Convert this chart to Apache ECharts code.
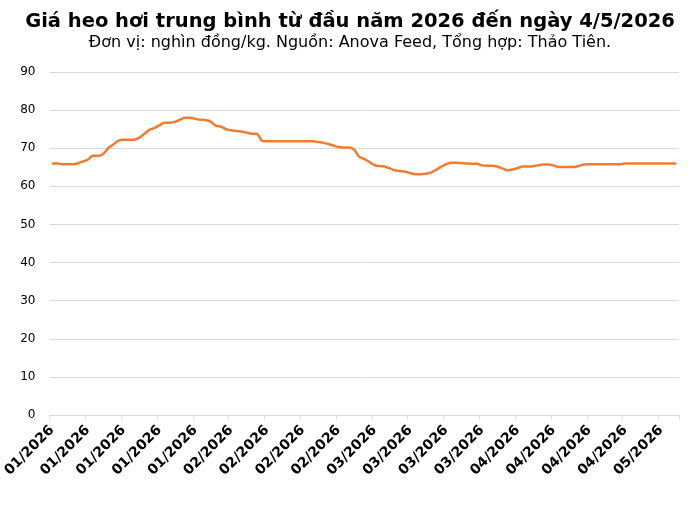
<!DOCTYPE html>
<html>
<head>
<meta charset="utf-8">
<script src="https://cdn.jsdelivr.net/npm/echarts@6/dist/echarts.min.js"></script>
<style>
  html, body { margin: 0; padding: 0; background: #fff; }
  #chart { width: 700px; height: 505px; }
</style>
</head>
<body>
<div id="chart"></div>
<script>
// Daily live-hog price, 02/01/2026 .. 04/05/2026 (thousand VND/kg)
var startDate = [2026, 0, 2];
var dayCount = 123;

var prices = [
  66.0, 66.0, 65.8, 65.8, 65.8, 66.0, 66.5, 67.0, 68.0, 68.0,
  68.5, 70.0, 71.0, 72.0, 72.2, 72.2, 72.2, 72.7, 73.7, 74.8,
  75.3, 76.0, 76.7, 76.7, 76.9, 77.5, 78.0, 78.0, 77.7, 77.5,
  77.4, 77.0, 75.9, 75.7, 75.0, 74.7, 74.5, 74.4, 74.1, 73.8,
  73.8, 72.0, 71.8, 71.8, 71.8, 71.8, 71.8, 71.8, 71.8, 71.8,
  71.8, 71.8, 71.6, 71.4, 71.1, 70.7, 70.3, 70.2, 70.2, 69.7,
  67.8, 67.2, 66.4, 65.6, 65.3, 65.2, 64.7, 64.2, 64.0, 63.8,
  63.5, 63.2, 63.2, 63.3, 63.6, 64.3, 65.1, 65.8, 66.2, 66.2,
  66.1, 66.0, 65.9, 65.9, 65.5, 65.4, 65.4, 65.2, 64.7, 64.2,
  64.4, 64.8, 65.2, 65.2, 65.3, 65.5, 65.7, 65.7, 65.5, 65.1,
  65.1, 65.1, 65.1, 65.4, 65.7, 65.8, 65.8, 65.8, 65.8, 65.8,
  65.8, 65.8, 66.0, 66.0, 66.0, 66.0, 66.0, 66.0, 66.0, 66.0,
  66.0, 66.0, 66.0
];

var yTicks = [0, 10, 20, 30, 40, 50, 60, 70, 80, 90];

var titleText = "Giá heo hơi trung bình từ đầu năm 2026 đến ngày 4/5/2026";
var subText = "Đơn vị: nghìn đồng/kg. Nguồn: Anova Feed, Tổng hợp: Thảo Tiên.";

// build day labels as MM/YYYY
function pad(n) { return n < 10 ? "0" + n : "" + n; }
var days = [];
for (var i = 0; i < dayCount; i++) {
  var d = new Date(startDate[0], startDate[1], startDate[2] + i);
  days.push(pad(d.getMonth() + 1) + "/" + d.getFullYear());
}

var myChart = echarts.init(document.getElementById("chart"), null, { renderer: "canvas" });

var option = {
  animation: false,
  backgroundColor: "#ffffff",
  title: {
    text: titleText,
    subtext: subText,
    left: "center",
    top: 7,
    itemGap: 3,
    textStyle: {
      fontFamily: "DejaVu Sans",
      fontWeight: "bold",
      fontSize: 19.5,
      color: "#000000"
    },
    subtextStyle: {
      fontFamily: "DejaVu Sans",
      fontSize: 16,
      color: "#000000"
    }
  },
  grid: {
    left: 49,
    right: 21,
    top: 72,
    bottom: 90,
    containLabel: false
  },
  xAxis: {
    type: "category",
    data: days,
    boundaryGap: true,
    axisLine: { lineStyle: { color: "#d9d9d9", width: 1 } },
    axisTick: {
      show: true,
      interval: 6,
      length: 4,
      lineStyle: { color: "#d9d9d9" }
    },
    axisLabel: {
      interval: 6,
      rotate: 45,
      margin: 13,
      fontFamily: "DejaVu Sans",
      fontWeight: "bold",
      fontSize: 14,
      color: "#000000"
    },
    splitLine: { show: false }
  },
  yAxis: {
    type: "value",
    min: yTicks[0],
    max: yTicks[yTicks.length - 1],
    interval: 10,
    axisLine: { show: false },
    axisTick: { show: false },
    axisLabel: {
      margin: 14,
      fontFamily: "DejaVu Sans",
      fontSize: 12,
      color: "#000000"
    },
    splitLine: { lineStyle: { color: "#d9d9d9", width: 1 } }
  },
  series: [
    {
      type: "line",
      data: prices,
      showSymbol: false,
      smooth: 0.3,
      lineStyle: { color: "#ED7D31", width: 2.5 },
      itemStyle: { color: "#ED7D31" }
    }
  ]
};

myChart.setOption(option);
</script>
</body>
</html>
